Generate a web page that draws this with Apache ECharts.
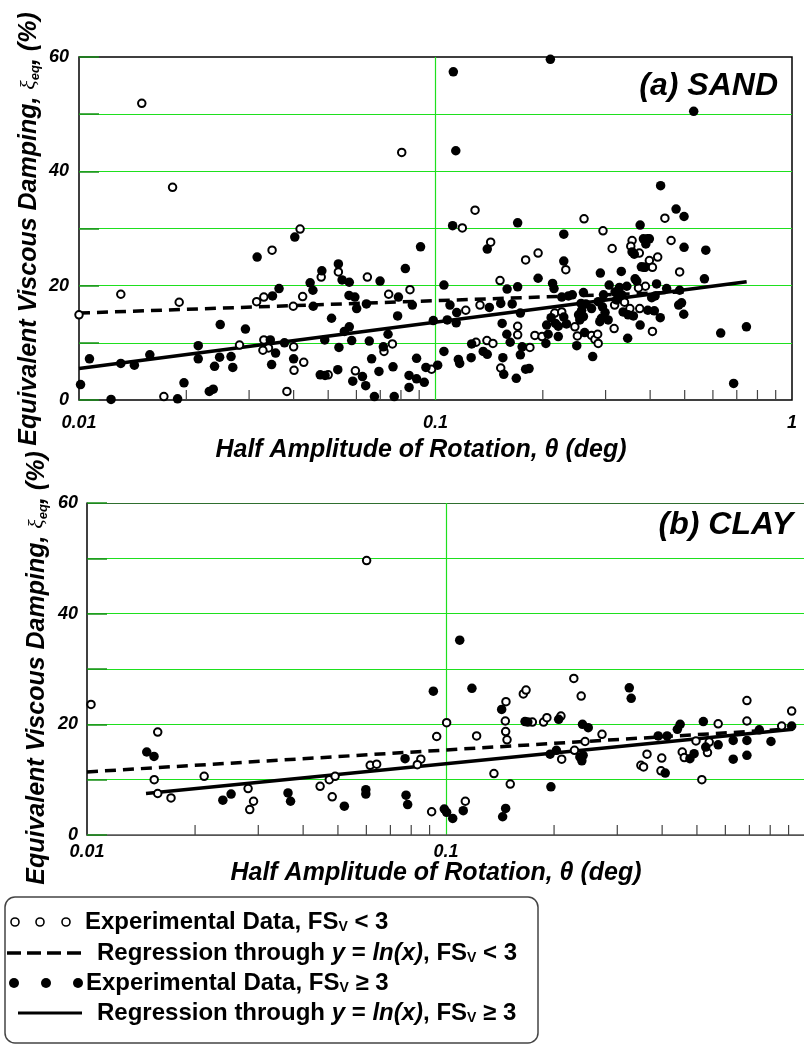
<!DOCTYPE html>
<html><head><meta charset="utf-8">
<script src="https://cdn.jsdelivr.net/npm/echarts@6.0.0/dist/echarts.min.js"></script>
<style>html,body{margin:0;padding:0;background:#fff}#c{width:804px;height:1045px}</style>
</head><body><div id="c"></div>
<script>
// ---------- tick labels ----------
const xTickLabelsTop = ['0.01', '0.1', '1'];
const xTickLabelsBottom = ['0.01', '0.1', ''];
const xMinorTicks = [0.02,0.03,0.04,0.05,0.06,0.07,0.08,0.09,0.2,0.3,0.4,0.5,0.6,0.7,0.8,0.9];
const yTickLabels = [0, 20, 40, 60];

// ---------- (a) SAND ----------
const sandOpen = [
[0.0150,51.9],[0.0183,37.2],[0.0804,43.3],
[0.0417,29.9],[0.0348,26.2],[0.0131,18.5],[0.0191,17.1],[0.0100,14.9],[0.0330,18.0],[0.0315,17.2],
[0.0399,16.4],[0.0424,18.1],[0.0282,9.6],[0.0330,10.5],[0.0340,9.1],[0.0328,8.7],[0.0400,9.3],
[0.0401,5.2],[0.0427,6.6],[0.0173,0.6],[0.0383,1.5],
[0.1189,30.1],[0.1291,33.2],[0.1428,27.6],[0.0534,22.4],[0.0478,21.5],[0.0644,21.5],[0.0739,18.5],
[0.0848,19.3],[0.1216,15.7],[0.1333,16.6],[0.1517,20.9],[0.170,12.9],[0.170,11.4],[0.0757,9.8],
[0.0717,8.5],[0.0500,4.4],[0.0596,5.1],[0.0975,5.4],[0.1299,10.1],[0.1394,10.4],[0.1449,9.9],[0.1524,5.6],
[0.440,31.8],[0.261,31.7],[0.295,29.6],[0.356,27.9],[0.353,26.9],[0.373,25.7],[0.458,27.9],[0.313,26.5],
[0.420,25.0],[0.398,24.4],[0.194,25.7],[0.179,24.5],[0.232,22.8],[0.406,23.2],[0.387,23.2],[0.484,22.4],
[0.388,19.9],[0.371,19.6],[0.374,16.0],[0.351,16.0],[0.318,16.6],[0.339,17.1],[0.246,12.8],[0.216,15.2],
[0.226,15.4],[0.190,11.3],[0.199,11.1],[0.184,9.2],[0.250,11.2],[0.274,11.3],[0.280,10.6],[0.286,9.9],
[0.285,11.5],[0.317,12.5],[0.406,12.0]
];
const sandFilled = [
[0.0403,28.5],[0.0316,25.0],[0.0364,19.5],[0.0349,18.2],[0.0249,13.2],[0.0293,12.4],[0.0107,7.2],
[0.0131,6.4],[0.0143,6.1],[0.0158,7.9],[0.0216,9.5],[0.0216,7.2],[0.0248,7.5],[0.0240,5.9],[0.0267,7.6],
[0.0270,5.7],[0.0344,10.5],[0.0356,8.2],[0.0347,6.2],[0.0377,10.0],[0.0400,7.2],[0.0101,2.7],[0.0123,0.1],
[0.0189,0.2],[0.0197,3.0],[0.0232,1.5],[0.0238,1.9],
[0.210,59.6],[0.1122,57.4],[0.114,43.6],[0.1117,30.5],[0.170,31.0],[0.1397,26.4],[0.0908,26.8],[0.0823,23.0],
[0.0534,23.8],[0.0480,22.6],[0.0445,20.5],[0.0453,19.2],[0.0547,21.0],[0.0573,20.6],[0.0699,20.8],[0.0572,18.3],
[0.0594,18.0],[0.0601,16.0],[0.0640,16.8],[0.0787,18.0],[0.0861,16.6],[0.0454,16.4],[0.0511,14.3],[0.0783,14.7],
[0.0573,12.8],[0.0555,12.0],[0.0736,11.5],[0.0986,13.9],[0.1056,20.1],[0.1098,16.6],[0.1147,15.3],[0.1079,14.0],
[0.1143,13.5],[0.1416,16.2],[0.1524,16.9],[0.1641,16.8],[0.1588,19.4],[0.170,19.8],[0.1538,13.4],[0.1585,11.5],
[0.162,10.1],[0.0489,10.5],[0.0582,10.4],[0.0652,10.3],[0.0536,9.2],[0.0714,9.3],[0.0662,7.2],[0.0760,5.8],
[0.0885,7.3],[0.0532,5.3],[0.0694,5.0],[0.0475,4.4],[0.0490,4.3],[0.0586,3.3],[0.0624,4.1],[0.0637,2.5],
[0.0674,0.6],[0.0766,0.6],[0.0843,4.3],[0.0885,3.7],[0.0930,3.1],[0.0843,2.2],[0.0940,5.7],[0.1014,6.1],
[0.1056,8.5],[0.1159,7.1],[0.1169,6.4],[0.1259,7.4],[0.1263,9.8],[0.1361,8.5],[0.1397,8.0],[0.1545,7.4],
[0.1554,4.5],[0.1685,3.8],
[0.428,37.5],[0.473,33.4],[0.498,32.1],[0.229,29.0],[0.375,30.6],[0.383,28.2],[0.393,28.2],[0.398,28.2],
[0.389,27.3],[0.356,25.9],[0.361,25.5],[0.498,26.7],[0.229,24.3],[0.378,23.3],[0.384,23.2],[0.290,22.2],
[0.332,22.5],[0.194,21.3],[0.213,20.4],[0.215,19.5],[0.363,21.2],[0.367,20.8],[0.417,20.3],[0.307,20.1],
[0.328,19.7],[0.344,19.9],[0.445,19.5],[0.484,19.2],[0.260,18.8],[0.242,18.4],[0.226,18.0],[0.236,18.2],
[0.296,18.4],[0.319,18.9],[0.333,18.4],[0.404,17.9],[0.413,18.2],[0.322,17.5],[0.286,17.2],[0.256,16.9],
[0.264,16.8],[0.481,16.6],[0.490,17.0],[0.497,15.0],[0.427,14.4],[0.394,15.7],[0.411,15.6],[0.336,15.4],
[0.347,14.9],[0.359,14.7],[0.294,16.3],[0.299,15.3],[0.292,14.3],[0.305,14.0],[0.289,13.7],[0.274,16.0],
[0.257,15.7],[0.252,14.9],[0.260,14.6],[0.254,14.0],[0.229,14.5],[0.233,13.3],[0.221,12.9],[0.217,13.4],
[0.211,14.4],[0.205,13.1],[0.207,11.5],[0.204,9.9],[0.221,11.1],[0.173,15.2],[0.175,9.3],[0.173,7.9],
[0.249,9.5],[0.276,7.6],[0.262,11.8],[0.346,10.8],[0.375,13.1],[0.179,5.4],[0.183,5.5],
[0.530,50.5],[0.573,26.2],[0.568,21.2],[0.631,11.7],[0.745,12.8],[0.686,2.9]
];
const sandRegOpen = [[0.01,15.2],[0.5,18.9]];
const sandRegFilled = [[0.01,5.5],[0.746,20.7]];

// ---------- (b) CLAY ----------
const clayOpen = [
[0.01026,23.6],[0.01574,18.6],[0.01539,10.0],[0.01574,7.5],[0.01714,6.7],[0.0212,10.6],[0.0281,8.4],
[0.0291,6.1],[0.0284,4.6],[0.0446,8.8],[0.0473,10.0],[0.0491,10.6],[0.0482,6.9],[0.0601,49.6],[0.0615,12.6],
[0.0641,12.8],[0.0851,13.7],[0.0832,12.7],[0.0912,4.2],[0.1004,20.3],[0.0942,17.8],[0.1132,6.1],[0.1642,25.5],
[0.1671,26.2],[0.1469,24.1],[0.1463,20.6],[0.1466,18.7],[0.1479,17.2],[0.174,20.4],[0.187,20.4],[0.191,21.2],
[0.209,21.5],[0.227,28.3],[0.238,25.1],[0.244,16.9],[0.272,18.2],[0.1217,17.9],[0.136,11.1],[0.151,9.2],
[0.210,13.7],[0.228,15.3],[0.363,14.6],[0.349,12.6],[0.355,12.3],[0.399,13.9],[0.397,11.6],[0.455,15.0],
[0.461,14.0],[0.516,10.0],[0.497,17.0],[0.535,14.9],[0.541,16.8],[0.573,20.1],[0.689,24.3],[0.689,20.6],
[0.861,19.7],[0.918,22.4]
];
const clayFilled = [
[0.01467,15.0],[0.01537,14.2],[0.0239,6.3],[0.0252,7.4],[0.0363,7.6],[0.0369,6.1],[0.0521,5.2],[0.0598,8.2],
[0.0598,7.4],[0.0769,13.8],[0.0774,7.2],[0.0782,5.5],[0.0989,4.7],[0.1004,4.1],[0.0922,26.0],[0.1092,35.2],
[0.1181,26.5],[0.1429,22.7],[0.166,20.5],[0.169,20.4],[0.206,20.9],[0.240,20.0],[0.249,19.4],[0.196,8.7],
[0.195,14.6],[0.203,15.3],[0.236,14.1],[0.241,14.4],[0.239,13.4],[0.1044,3.0],[0.1117,4.4],[0.1466,4.8],
[0.1438,3.3],[0.324,26.6],[0.328,24.7],[0.408,11.2],[0.390,17.9],[0.413,17.9],[0.441,19.1],[0.449,20.0],
[0.478,13.8],[0.491,14.7],[0.521,20.5],[0.529,15.9],[0.573,16.3],[0.631,17.1],[0.631,13.7],[0.689,17.1],
[0.689,14.4],[0.746,19.0],[0.804,16.9],[0.918,19.7]
];
const clayRegOpen = [[0.01,11.4],[0.927,19.2]];
const clayRegFilled = [[0.0146,7.5],[0.927,19.1]];

// ---------- chart ----------
const FONT = '"Liberation Sans", Arial, sans-serif';
const GREEN = '#1ee01e';
const TICKGREEN = '#1a8f1a';
const chart = echarts.init(document.getElementById('c'), null, {renderer: 'canvas'});

function xAxisCfg(gi, margin, labels, showLine) {
  return {
    type: 'log', logBase: 10, gridIndex: gi, min: 0.01, max: 1,
    axisLine: {show: showLine, lineStyle: {color: '#555', width: 1.5}},
    axisTick: {show: false}, minorTick: {show: false},
    splitLine: {show: true, showMinLine: false, showMaxLine: false, lineStyle: {color: [GREEN], width: 1.2, opacity: 1}},
    axisLabel: {margin: margin, fontFamily: FONT, fontSize: 18, fontWeight: 'bold', fontStyle: 'italic', color: '#000',
      formatter: v => labels[Math.round(Math.log10(v)) + 2] || ''}
  };
}
function yAxisCfg(gi, margin, showLine, splitColors, showEnds) {
  return {
    type: 'value', gridIndex: gi, min: 0, max: 60, interval: 10,
    axisLine: {show: showLine, lineStyle: {color: '#000', width: 1.5}},
    axisTick: {show: true, inside: true, length: 20, lineStyle: {color: TICKGREEN, width: 1.5}},
    splitLine: {show: true, showMinLine: showEnds, showMaxLine: showEnds, lineStyle: {color: splitColors, width: 1.2}},
    axisLabel: {margin: margin, fontFamily: FONT, fontSize: 18, fontWeight: 'bold', fontStyle: 'italic', color: '#000',
      formatter: v => yTickLabels.includes(v) ? String(v) : ''}
  };
}
function regLine(data, gi, dashed) {
  return {type: 'line', xAxisIndex: gi, yAxisIndex: gi, data: data, symbol: 'none', z: 2, silent: true,
    lineStyle: {color: '#000', width: 3.5, opacity: 1, type: dashed ? [11, 7] : 'solid'}};
}
function pts(data, gi, open) {
  return {type: 'scatter', xAxisIndex: gi, yAxisIndex: gi, data: data, z: 3, silent: true,
    symbol: 'circle', symbolSize: open ? 7.5 : 9.5,
    itemStyle: open ? {color: '#fff', borderColor: '#000', borderWidth: 2, opacity: 1} : {color: '#000', opacity: 1}};
}
function minor(gi) {
  return {type: 'scatter', xAxisIndex: gi, yAxisIndex: gi, data: xMinorTicks.map(v => [v, 0]), z: 1, silent: true,
    clip: false, symbol: 'rect', symbolSize: [1.2, 10], symbolOffset: [0, -5], itemStyle: {color: '#444', opacity: 1}};
}

const yTitleRich = {
  a: {font: 'italic bold 25px "Liberation Sans"', fill: '#000'},
  g: {font: 'italic 22px "Liberation Serif"', fill: '#000'},
  s: {font: 'italic bold 13px "Liberation Sans"', fill: '#000', verticalAlign: 'bottom'}
};
function yTitle(x, y) {
  return {type: 'text', x: x, y: y, rotation: Math.PI / 2, style: {
    text: '{a|Equivalent Viscous Damping, }{g|ξ}{s|eq}{a|, (%)}', rich: yTitleRich,
    align: 'center', verticalAlign: 'middle', fill: '#000'}};
}
function xTitle(x, y) {
  return {type: 'text', x: x, y: y, style: {text: 'Half Amplitude of Rotation, θ (deg)',
    font: 'italic bold 25px "Liberation Sans"', fill: '#000', align: 'center', verticalAlign: 'middle'}};
}
const legRich = {
  b: {font: 'bold 24px "Liberation Sans"', fill: '#000'},
  i: {font: 'italic bold 24px "Liberation Sans"', fill: '#000'},
  s: {font: 'bold 14px "Liberation Sans"', fill: '#000', verticalAlign: 'bottom'}
};
function legText(x, y, t) {
  return {type: 'text', x: x, y: y, style: {text: t, rich: legRich, align: 'left', verticalAlign: 'middle', fill: '#000'}};
}
function openC(cx, cy) { return {type: 'circle', shape: {cx: cx, cy: cy, r: 4}, style: {fill: '#fff', stroke: '#000', lineWidth: 1.6}}; }
function fillC(cx, cy) { return {type: 'circle', shape: {cx: cx, cy: cy, r: 5}, style: {fill: '#000'}}; }

const bottomSplit = ['#555', GREEN, GREEN, GREEN, GREEN, GREEN, '#2f6f2f'];

chart.setOption({
  animation: false,
  backgroundColor: '#fff',
  grid: [
    {left: 79, top: 57, width: 713, height: 343, show: true, borderColor: '#000', borderWidth: 1.5, backgroundColor: 'transparent', containLabel: false, outerBoundsMode: 'none'},
    {left: 87, top: 503, width: 718, height: 332, show: false, containLabel: false, outerBoundsMode: 'none'}
  ],
  xAxis: [xAxisCfg(0, 14, xTickLabelsTop, false), xAxisCfg(1, 8, xTickLabelsBottom, true)],
  yAxis: [yAxisCfg(0, 10, false, [GREEN], false), yAxisCfg(1, 9, true, bottomSplit, true)],
  series: [
    minor(0), minor(1),
    regLine(sandRegOpen, 0, true), regLine(sandRegFilled, 0, false),
    pts(sandOpen, 0, true), pts(sandFilled, 0, false),
    regLine(clayRegOpen, 1, true), regLine(clayRegFilled, 1, false),
    pts(clayOpen, 1, true), pts(clayFilled, 1, false)
  ],
  graphic: {elements: [
    yTitle(29, 229), yTitle(37, 668),
    xTitle(421, 450), xTitle(436, 873),
    {type: 'text', x: 778, y: 86, style: {text: '(a) SAND', font: 'italic bold 32px "Liberation Sans"', fill: '#000', align: 'right', verticalAlign: 'middle'}},
    {type: 'text', x: 793, y: 525, style: {text: '(b) CLAY', font: 'italic bold 32px "Liberation Sans"', fill: '#000', align: 'right', verticalAlign: 'middle'}},
    {type: 'rect', shape: {x: 5, y: 897, width: 533, height: 146, r: 10}, style: {fill: 'none', stroke: '#444', lineWidth: 1.5}},
    openC(15, 922), openC(40, 922), openC(66, 922),
    {type: 'line', shape: {x1: 7, y1: 953, x2: 82, y2: 953}, style: {stroke: '#000', lineWidth: 3.5, lineDash: [14, 6]}},
    fillC(14, 983), fillC(46, 983), fillC(78, 983),
    {type: 'line', shape: {x1: 18, y1: 1013, x2: 82, y2: 1013}, style: {stroke: '#000', lineWidth: 3}},
    legText(85, 922, '{b|Experimental Data, FS}{s|V}{b| < 3}'),
    legText(97, 953, '{b|Regression through }{i|y}{b| = }{i|ln(x)}{b|, FS}{s|V}{b| < 3}'),
    legText(86, 983, '{b|Experimental Data, FS}{s|V}{b| ≥ 3}'),
    legText(97, 1013, '{b|Regression through }{i|y}{b| = }{i|ln(x)}{b|, FS}{s|V}{b| ≥ 3}')
  ]}
});
</script></body></html>
